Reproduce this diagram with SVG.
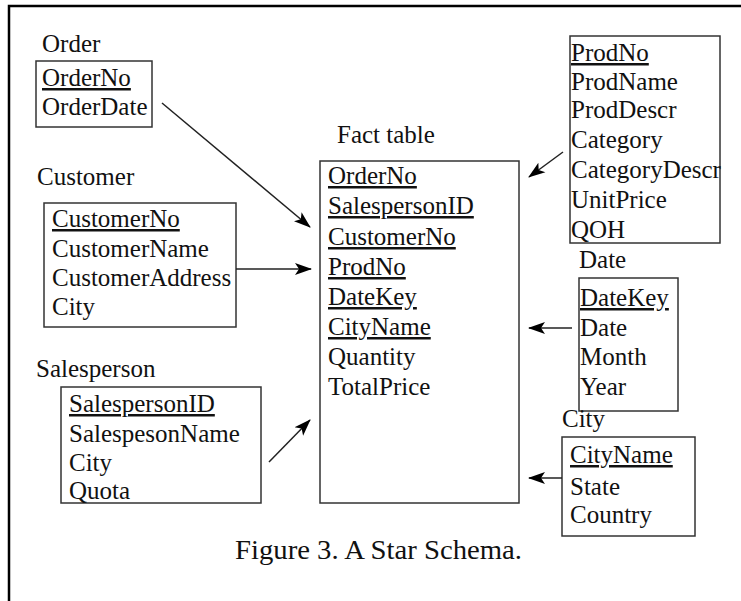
<svg xmlns="http://www.w3.org/2000/svg" width="741" height="601" viewBox="0 0 741 601">
<style>
text{font-family:"Liberation Serif","Times New Roman",serif;font-size:25px;fill:#111}
.k{text-decoration:underline}
.box{fill:none;stroke:#333;stroke-width:1.5}
.frame{stroke:#000;stroke-width:2.5;fill:none}
.cap{font-size:27px}
#connectors line{stroke:#222;stroke-width:1.5;marker-end:url(#ah)}
</style>
<defs>
<marker id="ah" markerUnits="userSpaceOnUse" markerWidth="18" markerHeight="14" refX="16" refY="6" orient="auto" viewBox="0 0 18 12">
<path d="M0,0 L17,6 L0,12 L4,6 Z" fill="#000"/>
</marker>
</defs>
<rect width="741" height="601" fill="#fff"/>
<path class="frame" d="M9,601 V6 H741"/>

<g id="order">
<text x="42" y="52">Order</text>
<rect class="box" x="36" y="61" width="116" height="66"/>
<text class="k" x="42" y="86">OrderNo</text>
<text x="42" y="115">OrderDate</text>
</g>

<g id="customer">
<text x="37" y="185">Customer</text>
<rect class="box" x="44" y="203" width="192" height="124"/>
<text class="k" x="52" y="227">CustomerNo</text>
<text x="52" y="257">CustomerName</text>
<text x="52" y="286">CustomerAddress</text>
<text x="52" y="315">City</text>
</g>

<g id="salesperson">
<text x="36" y="377">Salesperson</text>
<rect class="box" x="61" y="387" width="200" height="116"/>
<text class="k" x="69" y="412">SalespersonID</text>
<text x="69" y="442">SalespesonName</text>
<text x="69" y="471">City</text>
<text x="69" y="499">Quota</text>
</g>

<g id="fact">
<text x="337" y="143">Fact table</text>
<rect class="box" x="320" y="161" width="199" height="342"/>
<text class="k" x="328" y="184">OrderNo</text>
<text class="k" x="328" y="214">SalespersonID</text>
<text class="k" x="328" y="245">CustomerNo</text>
<text class="k" x="328" y="275">ProdNo</text>
<text class="k" x="328" y="305">DateKey</text>
<text class="k" x="328" y="335">CityName</text>
<text x="328" y="365">Quantity</text>
<text x="328" y="395">TotalPrice</text>
</g>

<g id="product">
<rect class="box" x="570" y="36" width="150" height="207"/>
<text class="k" x="571" y="61">ProdNo</text>
<text x="571" y="90">ProdName</text>
<text x="571" y="118">ProdDescr</text>
<text x="571" y="148">Category</text>
<text x="571" y="178">CategoryDescr</text>
<text x="571" y="208">UnitPrice</text>
<text x="571" y="238">QOH</text>
</g>

<g id="date">
<text x="579" y="268">Date</text>
<rect class="box" x="579" y="278" width="99" height="133"/>
<text class="k" x="580" y="306">DateKey</text>
<text x="580" y="336">Date</text>
<text x="580" y="365">Month</text>
<text x="580" y="395">Year</text>
</g>

<g id="city">
<text x="562" y="427">City</text>
<rect class="box" x="562" y="437" width="133" height="99"/>
<text class="k" x="570" y="463">CityName</text>
<text x="570" y="495">State</text>
<text x="570" y="523">Country</text>
</g>

<g id="connectors">
<line x1="162" y1="103" x2="310" y2="227"/>
<line x1="236" y1="269" x2="311" y2="269"/>
<line x1="269" y1="462" x2="310" y2="420"/>
<line x1="563" y1="152" x2="529" y2="177"/>
<line x1="572" y1="328" x2="529" y2="328"/>
<line x1="562" y1="478" x2="529" y2="478"/>
</g>

<text class="cap" x="235" y="559" textLength="287" lengthAdjust="spacingAndGlyphs">Figure 3. A Star Schema.</text>
</svg>
